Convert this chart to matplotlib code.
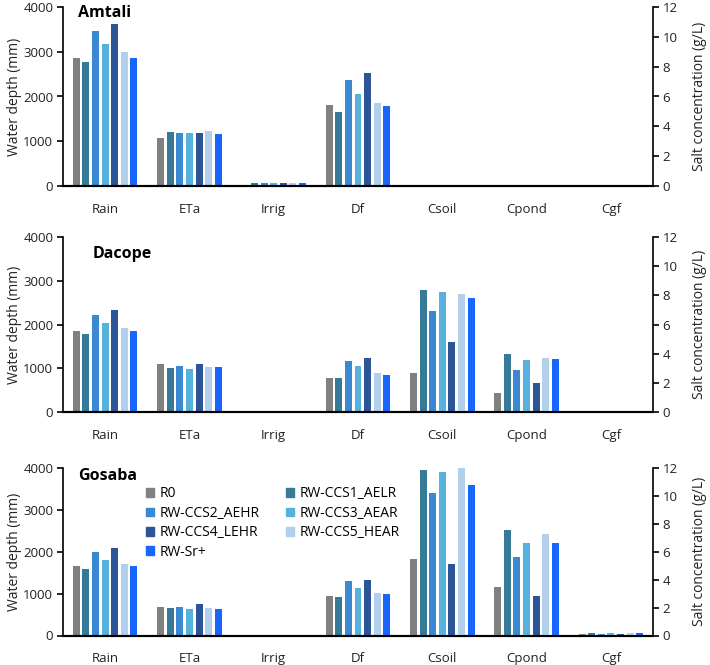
import matplotlib
matplotlib.use("Agg")
import matplotlib.pyplot as plt
from matplotlib.patches import Patch

plt.rcParams['font.family'] = ['Open Sans', 'DejaVu Sans']

categories = ["Rain", "ETa", "Irrig", "Df", "Csoil", "Cpond", "Cgf"]
n_left = 4  # first four categories on the water-depth axis
scenarios = ["R0", "RW-CCS1_AELR", "RW-CCS2_AEHR", "RW-CCS3_AEAR",
             "RW-CCS4_LEHR", "RW-CCS5_HEAR", "RW-Sr+"]
colors = ["#808080", "#377a97", "#3a87d2", "#56b1df",
          "#2c5597", "#b2cfeb", "#1866fb"]
sites = ["Amtali", "Dacope", "Gosaba"]

# rows = scenarios, columns = categories
amtali = [
    [2857, 1064, 0, 1808, 0, 0, 0],
    [2768, 1198, 70, 1645, 0, 0, 0],
    [3467, 1183, 70, 2359, 0, 0, 0],
    [3170, 1183, 70, 2060, 0, 0, 0],
    [3630, 1183, 70, 2529, 0, 0, 0],
    [2984, 1220, 70, 1860, 0, 0, 0],
    [2857, 1168, 70, 1779, 0, 0, 0],
]
dacope = [
    [1849, 1096, 25, 776, 2.70, 1.30, 0],
    [1773, 1005, 0, 776, 8.35, 4.01, 0],
    [2221, 1043, 0, 1171, 6.95, 2.86, 0],
    [2032, 982, 0, 1050, 8.26, 3.54, 0],
    [2336, 1096, 0, 1233, 4.80, 2.02, 0],
    [1910, 1027, 0, 890, 8.10, 3.72, 0],
    [1849, 1027, 0, 845, 7.83, 3.65, 0],
]
gosaba = [
    [1654, 675, 0, 955, 5.50, 3.44, 0.10],
    [1582, 652, 0, 914, 11.89, 7.58, 0.15],
    [1988, 675, 0, 1296, 10.20, 5.59, 0.12],
    [1814, 628, 0, 1136, 11.72, 6.63, 0.15],
    [2091, 755, 0, 1315, 5.14, 2.80, 0.12],
    [1718, 652, 0, 1014, 12.03, 7.24, 0.15],
    [1654, 628, 0, 983, 10.77, 6.63, 0.17],
]
site_data = [amtali, dacope, gosaba]

W, H = 710, 665
fig = plt.figure(figsize=(W / 100, H / 100), dpi=100)

# panel pixel extents (top, bottom)
panels_px = [(7, 186), (237, 412), (468, 635.5)]
left_px, right_px = 63, 653
title_pos = [(0.025, 0.965), (0.05, 0.905), (0.025, 0.95)]

slot = 0.114
bw = 0.083
fs = 9.5
tc = "#222222"

for k, (site, data) in enumerate(zip(sites, site_data)):
    top, bot = panels_px[k]
    rect = [left_px / W, 1 - bot / H, (right_px - left_px) / W, (bot - top) / H]
    ax = fig.add_axes(rect)
    ax2 = ax.twinx()
    for i, (name, col) in enumerate(zip(scenarios, colors)):
        off = (i - 3) * slot
        xs_l = [j + off for j in range(n_left)]
        ys_l = data[i][:n_left]
        xs_r = [j + off for j in range(n_left, len(categories))]
        ys_r = data[i][n_left:]
        ax.bar(xs_l, ys_l, width=bw, color=col, label=name, zorder=2)
        ax2.bar(xs_r, ys_r, width=bw, color=col, zorder=2)
    ax.set_xlim(-0.5, len(categories) - 0.5)
    ax.set_ylim(0, 4000)
    ax2.set_ylim(0, 12)
    ax.set_yticks([0, 1000, 2000, 3000, 4000])
    ax2.set_yticks([0, 2, 4, 6, 8, 10, 12])
    ax.set_xticks(range(len(categories)))
    ax.set_xticklabels(categories, fontsize=fs, color=tc)
    ax.tick_params(axis='x', length=0, pad=12)
    ax.tick_params(axis='y', labelsize=fs, length=4, width=1.2, direction='out',
                   labelcolor=tc, pad=3)
    ax2.tick_params(axis='y', labelsize=fs, length=4, width=1.2, direction='out',
                    labelcolor=tc, pad=3)
    for a in (ax, ax2):
        a.spines['top'].set_visible(False)
        a.spines['left'].set_linewidth(1.2)
        a.spines['right'].set_linewidth(1.2)
        a.spines['bottom'].set_linewidth(1.5)
    ax.spines['right'].set_visible(False)
    ax2.spines['left'].set_visible(False)
    ax.set_ylabel("Water depth (mm)", fontsize=10, color=tc)
    ax.yaxis.set_label_coords(-0.07, 0.5)
    ax2.set_ylabel("Salt concentration (g/L)", fontsize=10, color=tc)
    ax2.yaxis.set_label_coords(1.066, 0.5)
    ax.text(title_pos[k][0], title_pos[k][1], site, transform=ax.transAxes,
            fontsize=11.5, fontweight='bold', va='center', ha='left')

    if k == 2:
        order = [0, 2, 4, 6, 1, 3, 5]
        handles = [Patch(color=colors[o]) for o in order]
        labels = [scenarios[o] for o in order]
        ax.legend(handles, labels, ncol=2, loc='upper left',
                  bbox_to_anchor=(0.14, 0.89), frameon=False,
                  fontsize=10, handlelength=0.6, handleheight=0.6,
                  handletextpad=0.4, labelspacing=0.32, columnspacing=1.9,
                  borderaxespad=0, borderpad=0)

fig.savefig("out.png", dpi=100)
